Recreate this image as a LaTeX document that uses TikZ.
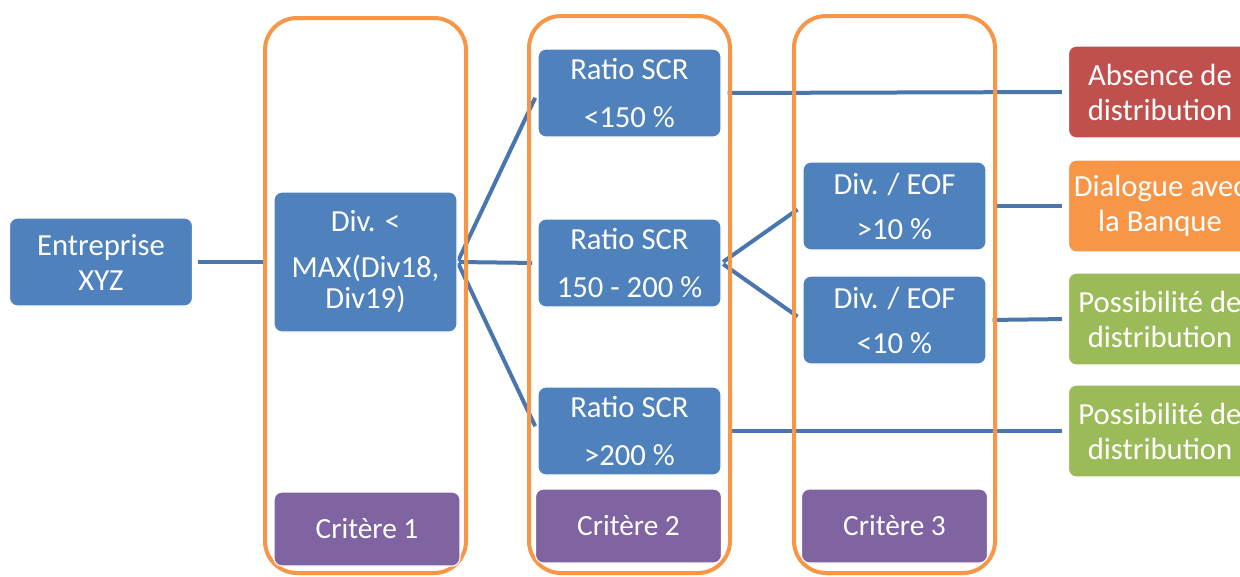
\documentclass[tikz,border=0pt]{standalone}
\usepackage{fontspec}
\setmainfont{Carlito}
\definecolor{boxblue}{HTML}{4F81BD}
\definecolor{lineblue}{HTML}{4A76AE}
\definecolor{colorange}{HTML}{F79646}
\definecolor{boxred}{HTML}{C0504D}
\definecolor{boxgreen}{HTML}{9BBB59}
\definecolor{boxpurple}{HTML}{8064A2}
\pgfdeclarelayer{bg}
\pgfdeclarelayer{mid}
\pgfsetlayers{bg,mid,main}
\tikzset{
  card/.style={rectangle, rounded corners=6pt, draw=white, line width=0.8pt,
    fill=boxblue, text=white, align=center, inner sep=0pt,
    minimum width=137.25pt, minimum height=66pt,
    font=\fontsize{23}{26.25}\selectfont},
  critbox/.style={card, fill=boxpurple, minimum width=139.5pt, minimum height=55.5pt,
    font=\fontsize{22}{26.25}\selectfont},
  column/.style={draw=colorange, line width=3pt, rounded corners=24pt},
  conn/.style={draw=lineblue, line width=3pt}
}
\begin{document}
\begin{tikzpicture}[x=0.75pt,y=-0.75pt]
\useasboundingbox (0,0) rectangle (1240,576);
\clip (0,0) rectangle (1240,576);
% nodes
\node[card] (ent) at (101,262) {Entreprise\\XYZ};
\node[card, minimum height=105pt] (div) at (365.5,262) {Div. <\\[8.25pt]MAX(Div18,\\[-3pt]Div19)};
\node[critbox] (c1) at (367,529) {Critère 1};
\node[card] (r1) at (629.5,93) {Ratio SCR\\[9.75pt]<150 \%};
\node[card] (r2) at (629.5,263) {Ratio SCR\\[9.75pt]150 - 200 \%};
\node[card] (r3) at (629.5,431) {Ratio SCR\\[9.75pt]>200 \%};
\node[critbox] (c2) at (628.5,526) {Critère 2};
\node[card] (e1) at (894.5,206) {Div. / EOF\\[7.5pt]>10 \%};
\node[card] (e2) at (894.5,320) {Div. / EOF\\[7.5pt]<10 \%};
\node[critbox] (c3) at (894.5,526) {Critère 3};
\node[card, fill=boxred, minimum height=69pt] (o1) at (1160,92) {Absence de\\distribution};
\node[card, fill=colorange, minimum height=69pt] (o2) at (1160,206) {Dialogue avec\\la Banque};
\node[card, fill=boxgreen, minimum height=69pt] (o3) at (1160,319) {Possibilité de\\distribution};
\node[card, fill=boxgreen, minimum height=69pt] (o4) at (1160,431) {Possibilité de\\distribution};
% columns
\begin{pgfonlayer}{mid}
\draw[column] (265,18) rectangle (466,573);
\draw[column] (529,16) rectangle (730,573);
\draw[column] (794,16) rectangle (995,573);
\end{pgfonlayer}
% connectors
\begin{pgfonlayer}{bg}
\draw[conn, shorten <=4pt, shorten >=4.5pt] (ent.east) -- (div.west);
\draw[conn, shorten <=1pt, shorten >=4pt] (div.east) -- (r1.west);
\draw[conn, shorten <=1pt, shorten >=4pt] (div.east) -- (r2.west);
\draw[conn, shorten <=1pt, shorten >=4pt] (div.east) -- (r3.west);
\draw[conn, shorten <=1.5pt, shorten >=4.5pt] (r2.east) -- (e1.west);
\draw[conn, shorten <=1.5pt, shorten >=4.5pt] (r2.east) -- (e2.west);
\draw[conn, shorten <=4.5pt, shorten >=4.5pt] (r1.east) -- (o1.west);
\draw[conn, shorten <=4.5pt, shorten >=4.5pt] (e1.east) -- (o2.west);
\draw[conn, shorten <=4.5pt, shorten >=4.5pt] (e2.east) -- (o3.west);
\draw[conn, shorten <=4.5pt, shorten >=4.5pt] (r3.east) -- (o4.west);
\end{pgfonlayer}
\end{tikzpicture}
\end{document}
